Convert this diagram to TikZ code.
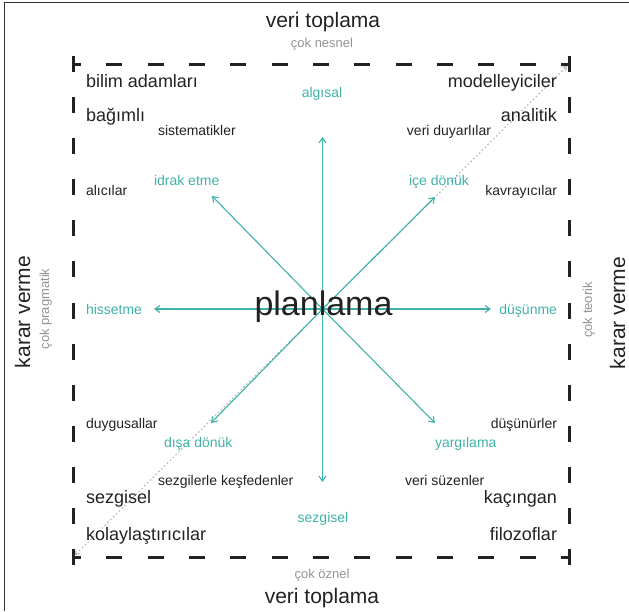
\documentclass[tikz,border=0pt]{standalone}
\usepackage{fontspec}
\setmainfont{Liberation Sans}
\usetikzlibrary{arrows.meta}
\definecolor{ink}{HTML}{222222}
\definecolor{tealc}{RGB}{63,178,168}
\definecolor{grayc}{HTML}{939393}
\definecolor{dotc}{HTML}{B8B8B8}
\begin{document}
\begin{tikzpicture}[x=1pt,y=-1pt,
  every node/.style={inner sep=0pt, outer sep=0pt},
  big/.style={font=\fontsize{21}{24}\selectfont, text=ink},
  lab/.style={font=\fontsize{18}{21}\selectfont, text=ink},
  sm/.style={font=\fontsize{14}{16}\selectfont, text=ink},
  tl/.style={font=\fontsize{14}{16}\selectfont, text=tealc},
  gr/.style={font=\fontsize{13}{15}\selectfont, text=grayc},
  huge/.style={font=\fontsize{34}{38}\selectfont, text=ink},
  arr/.style={draw=tealc, line width=1.1pt, -{Straight Barb[length=5pt,width=7pt]}},
  sqline/.style={draw=ink, line width=3pt, line cap=butt},
  sqcorner/.style={draw=ink, line width=3pt, line cap=butt, line join=miter},
  hdash/.style={dash pattern=on 16pt off 25.333pt, dash phase=8pt},
  vdash/.style={dash pattern=on 16pt off 25.083pt, dash phase=8pt},
]
\useasboundingbox (0,0) rectangle (629,611);
% outer frame
\draw[line width=1pt, draw=black!80] (4,611) -- (4,2) -- (629,2);

% square corners
\coordinate (TL) at (73,64);
\coordinate (TR) at (569,64);
\coordinate (BR) at (569,557);
\coordinate (BL) at (73,557);

% dotted diagonal
\draw[dotc, line width=1.2pt, dash pattern=on 1.5pt off 2.5pt,
      {Straight Barb[length=3pt,width=5pt]}-{Straight Barb[length=3pt,width=5pt]},
      shorten <=3pt, shorten >=3pt] (BL) -- (TR);

% dashed square
\draw[sqline, hdash] (TL) -- (TR);
\draw[sqline, hdash] (BL) -- (BR);
\draw[sqline, vdash] (TL) -- (BL);
\draw[sqline, vdash] (TR) -- (BR);
\draw[sqcorner] ([yshift=8pt]TL) -- (TL) -- ([xshift=8pt]TL);
\draw[sqcorner] ([xshift=-8pt]TR) -- (TR) -- ([yshift=8pt]TR);
\draw[sqcorner] ([yshift=-8pt]BR) -- (BR) -- ([xshift=-8pt]BR);
\draw[sqcorner] ([xshift=8pt]BL) -- (BL) -- ([yshift=-8pt]BL);

% arrows
\coordinate (c) at (322.5,309);
\coordinate (up) at (322.5,137);
\coordinate (dn) at (322.5,482);
\coordinate (lf) at (154,309);
\coordinate (rt) at (491,309);
\coordinate (ul) at (212,196);
\coordinate (ur) at (435,197);
\coordinate (ll) at (211,423);
\coordinate (lr) at (435,423);
\foreach \t in {up,dn,lf,rt,ul,ur,ll,lr} \draw[arr] (c) -- (\t);

% top / bottom / sides
\node[big, anchor=base] (vt1) at (323,27) {veri toplama};
\node[gr, anchor=base] (cn) at (322,47) {çok nesnel};
\node[gr, anchor=base] (co) at (322,578) {çok öznel};
\node[big, anchor=base] (vt2) at (322,603) {veri toplama};
\node[big, rotate=90, anchor=base] (kv1) at (30,312) {karar verme};
\node[gr, rotate=90, anchor=base] (cp) at (49,309) {çok pragmatik};
\node[gr, rotate=90, anchor=base] (ct) at (592,310) {çok teorik};
\node[big, rotate=90, anchor=base] (kv2) at (625,313) {karar verme};

% centre
\node[huge, anchor=base] (pl) at (323.5,315) {planlama};

% teal labels
\node[tl, anchor=base] (alg) at (322,97) {algısal};
\node[tl, anchor=base west] (idr) at (154,185) {idrak etme};
\node[tl, anchor=base west] (ice) at (409,185) {içe dönük};
\node[tl, anchor=base west] (his) at (86,314) {hissetme};
\node[tl, anchor=base east] (dus) at (557,314) {düşünme};
\node[tl, anchor=base west] (dis) at (164,447) {dışa dönük};
\node[tl, anchor=base west] (yar) at (435,447) {yargılama};
\node[tl, anchor=base] (sezt) at (323,522) {sezgisel};

% black labels
\node[lab, anchor=base west] (bil) at (86,87) {bilim adamları};
\node[lab, anchor=base west] (bag) at (86,121) {bağımlı};
\node[sm, anchor=base west] (sis) at (158,135) {sistematikler};
\node[lab, anchor=base east] (mod) at (557,87) {modelleyiciler};
\node[lab, anchor=base east] (ana) at (557,121) {analitik};
\node[sm, anchor=base east] (ved) at (491,135) {veri duyarlılar};
\node[sm, anchor=base west] (alc) at (86,195) {alıcılar};
\node[sm, anchor=base east] (kav) at (557,195) {kavrayıcılar};
\node[sm, anchor=base west] (duy) at (86,428) {duygusallar};
\node[sm, anchor=base east] (dsn) at (557,428) {düşünürler};
\node[sm, anchor=base west] (sk) at (158,485) {sezgilerle keşfedenler};
\node[sm, anchor=base west] (vs) at (405,485) {veri süzenler};
\node[lab, anchor=base west] (sez) at (86,503) {sezgisel};
\node[lab, anchor=base east] (kac) at (557,503) {kaçıngan};
\node[lab, anchor=base west] (kol) at (86,540) {kolaylaştırıcılar};
\node[lab, anchor=base east] (fil) at (557,540) {filozoflar};
\end{tikzpicture}
\end{document}
